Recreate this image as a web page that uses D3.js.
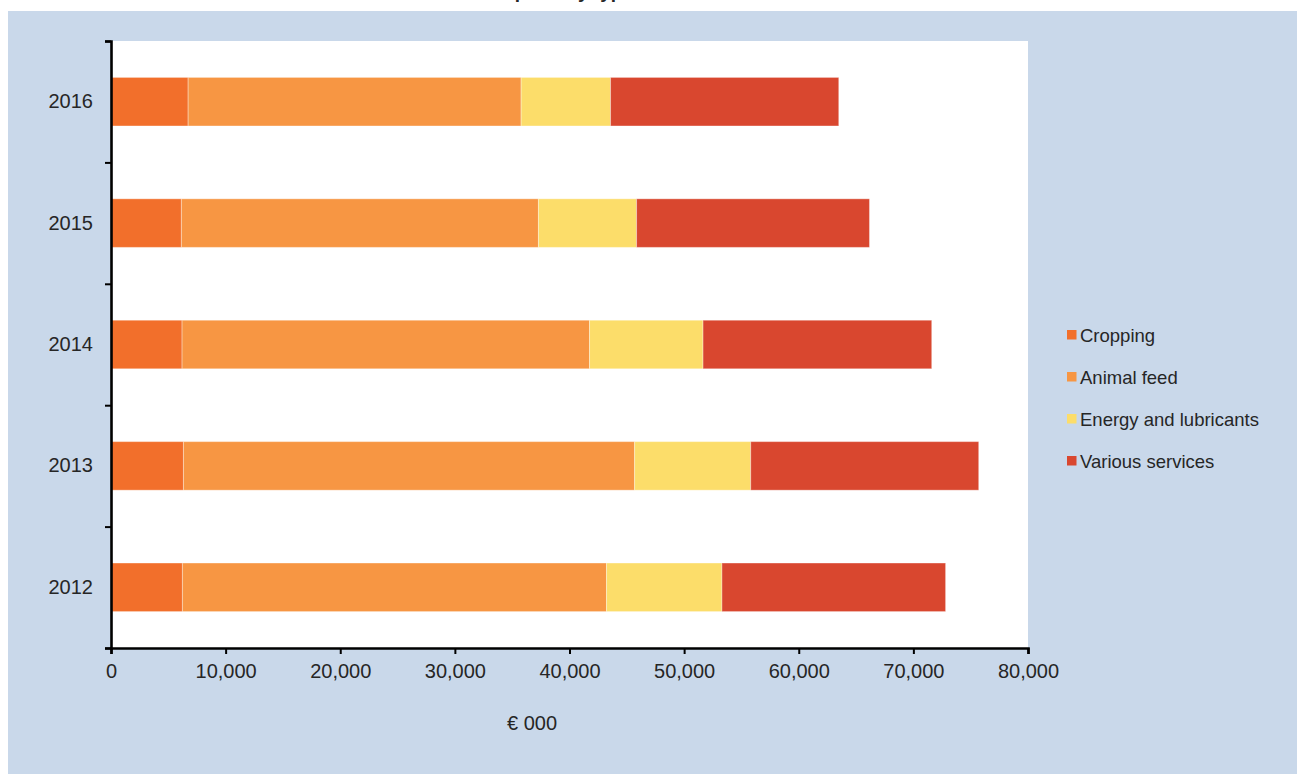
<!DOCTYPE html>
<meta charset="utf-8">
<style>
  body { margin: 0; background: #fff; }
  svg { display: block; }
  text { font-family: "Liberation Sans", Arial, sans-serif; fill: #262626; }
</style>

<!-- Load d3.js -->
<script src="https://d3js.org/d3.v7.min.js"></script>

<div id="my_dataviz"></div>

<script>

// data (euro thousands), top bar first
var years = ["2016", "2015", "2014", "2013", "2012"];
var cropping = [6730, 6140, 6200, 6320, 6230];
var animalFeed = [29050, 31150, 35550, 39360, 37000];
var energyLubricants = [7800, 8560, 9900, 10130, 10070];
var variousServices = [19910, 20320, 19950, 19890, 19510];

var seriesNames = ["Cropping", "Animal feed", "Energy and lubricants", "Various services"];
var seriesColors = ["#f26f2b", "#f79643", "#fcdd6a", "#d9472f"];
var xTickValues = [0, 10000, 20000, 30000, 40000, 50000, 60000, 70000, 80000];

var rows = years.map(function(y, i) {
  return {
    year: y,
    "Cropping": cropping[i],
    "Animal feed": animalFeed[i],
    "Energy and lubricants": energyLubricants[i],
    "Various services": variousServices[i]
  };
});

// dimensions
var W = 1297, H = 774;
var margin = {top: 41, left: 111},
    width = 917,
    height = 607;

var root = d3.select("#my_dataviz")
  .append("svg")
    .attr("width", W)
    .attr("height", H);

// title, cut off by the top edge as in the source
root.append("text")
  .attr("x", 633)
  .attr("y", -2)
  .attr("text-anchor", "end")
  .style("font-weight", "bold")
  .style("font-size", "19px")
  .text("Intermediate consumption by type");

// blue panel
root.append("rect")
  .attr("x", 8).attr("y", 11)
  .attr("width", W - 8).attr("height", H - 11)
  .attr("fill", "#c9d8ea");

var svg = root.append("g")
  .attr("transform", "translate(" + margin.left + "," + margin.top + ")");

// plot area
svg.append("rect")
  .attr("width", width).attr("height", height)
  .attr("fill", "#fff");

var x = d3.scaleLinear()
  .domain([0, 80000])
  .range([0, width]);

var y = d3.scaleBand()
  .domain(years)
  .range([0, height])
  .paddingInner(0.6)
  .paddingOuter(0.3);

// band boundaries for the tick marks
var yEdges = d3.scaleLinear()
  .domain([0, years.length])
  .range([0, height]);

var color = d3.scaleOrdinal()
  .domain(seriesNames)
  .range(seriesColors);

var stacked = d3.stack().keys(seriesNames)(rows);

// bars
svg.append("g")
  .selectAll("g")
  .data(stacked)
  .enter().append("g")
    .attr("fill", function(d) { return color(d.key); })
  .selectAll("rect")
  .data(function(d) { return d; })
  .enter().append("rect")
    .attr("x", function(d) { return x(d[0]); })
    .attr("y", function(d) { return y(d.data.year); })
    .attr("width", function(d) { return x(d[1]) - x(d[0]); })
    .attr("height", y.bandwidth())
    .attr("stroke", "#fff")
    .attr("stroke-opacity", 0.35)
    .attr("stroke-width", 1);

// Y axis: labels at band centres, ticks on band edges
var yAxis = svg.append("g")
  .call(d3.axisLeft(y).tickSize(0).tickPadding(18));
yAxis.select(".domain").remove();
yAxis.selectAll("text").style("font-size", "20px");

var yTicks = svg.append("g")
  .call(d3.axisLeft(yEdges).tickValues(d3.range(years.length + 1)).tickSize(6).tickFormat(""));
yTicks.select(".domain").attr("stroke-width", 2.6).attr("stroke", "#000");
yTicks.selectAll(".tick line").attr("stroke-width", 2).attr("stroke", "#000");

// X axis
var xAxis = svg.append("g")
  .attr("transform", "translate(0," + height + ")")
  .call(d3.axisBottom(x).tickValues(xTickValues).tickSize(6).tickPadding(10)
    .tickFormat(d3.format(",")));
xAxis.select(".domain").attr("stroke-width", 2.6).attr("stroke", "#000");
xAxis.selectAll(".tick line").attr("stroke-width", 2).attr("stroke", "#000");
xAxis.selectAll("text").style("font-size", "20px");

// X axis title
svg.append("text")
  .attr("x", 532 - margin.left)
  .attr("y", 730 - margin.top)
  .attr("text-anchor", "middle")
  .style("font-size", "20px")
  .text("€ 000");

// legend
var legend = root.append("g")
  .attr("transform", "translate(1067,330)");

var item = legend.selectAll("g")
  .data(seriesNames)
  .enter().append("g")
    .attr("transform", function(d, i) { return "translate(0," + (i * 42) + ")"; });

item.append("rect")
  .attr("width", 9.5).attr("height", 9.5)
  .attr("fill", function(d) { return color(d); });

item.append("text")
  .attr("x", 13)
  .attr("y", 11.5)
  .style("font-size", "18.5px")
  .text(function(d) { return d; });

</script>
